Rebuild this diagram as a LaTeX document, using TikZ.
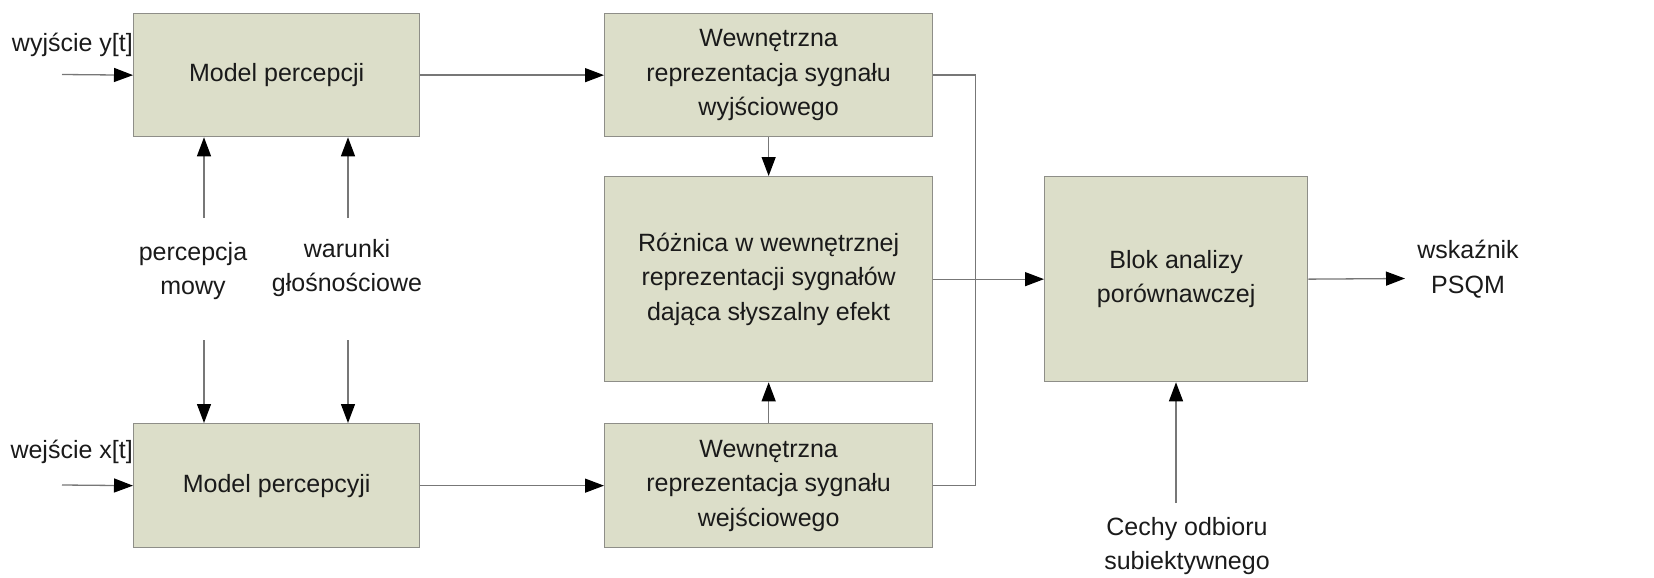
\documentclass[tikz,border=0pt]{standalone}
\usepackage{fontspec}
\setmainfont{Liberation Sans}
\usetikzlibrary{arrows.meta,calc}
\definecolor{boxfill}{HTML}{DCDEC9}
\definecolor{boxline}{HTML}{8E8E88}
\definecolor{wire}{HTML}{777777}
\definecolor{ink}{HTML}{1A1A1A}
\begin{document}
\begin{tikzpicture}[x=1pt,y=-1pt,
  every node/.style={font=\fontsize{25}{34.5}\selectfont, text=ink},
  block/.style={draw=boxline, line width=1.3pt, fill=boxfill, inner sep=0pt,
    align=center, anchor=north west},
  lbl/.style={inner sep=0pt, align=center},
  wireline/.style={draw=wire, line width=1.3pt},
  flow/.style={wireline, -{Triangle[length=19pt,width=14pt,fill=black,color=black]}}
]
\useasboundingbox (0,0) rectangle (1654,578);

% blocks
\node[block, minimum width=286pt, minimum height=123pt] (mpy) at (133,13) {Model percepcji};
\node[block, minimum width=286pt, minimum height=124pt] (mpx) at (133,423) {Model percepcyji};
\node[block, minimum width=328pt, minimum height=123pt] (wy) at (604,13)
  {Wewnętrzna\\reprezentacja sygnału\\wyjściowego};
\node[block, minimum width=328pt, minimum height=205pt] (diff) at (604,176)
  {Różnica w wewnętrznej\\reprezentacji sygnałów\\dająca słyszalny efekt};
\node[block, minimum width=328pt, minimum height=124pt] (wx) at (604,423)
  {Wewnętrzna\\reprezentacja sygnału\\wejściowego};
\node[block, minimum width=263pt, minimum height=205pt] (blok) at (1044,176)
  {Blok analizy\\porównawczej};

% free labels
\node[lbl, anchor=east] (ylab) at (133,45) {wyjście y[t]};
\node[lbl, anchor=east] (xlab) at (133,452) {wejście x[t]};
\node[lbl] (perc) at (193,271) {percepcja\\mowy};
\node[lbl] (war) at (347,268) {warunki\\głośnościowe};
\node[lbl] (psqm) at (1468,269) {wskaźnik\\PSQM};
\node[lbl] (cechy) at (1187,546) {Cechy odbioru\\subiektywnego};

% wire end points
\coordinate (iny) at (62,74.5);
\coordinate (inx) at (62,485);
\coordinate (pUp) at (204,218);
\coordinate (pDn) at (204,340);
\coordinate (wUp) at (348,218);
\coordinate (wDn) at (348,340);
\coordinate (out) at (1405,278.5);
\coordinate (cUp) at (1176,503);

% signal inputs
\draw[flow] (iny) -- (mpy.west);
\draw[flow] (inx) -- (mpx.west);
\draw[flow] (mpy.east) -- (wy.west);
\draw[flow] (mpx.east) -- (wx.west);

% perception and loudness conditions
\draw[flow] (pUp) -- (pUp |- mpy.south);
\draw[flow] (pDn) -- (pDn |- mpx.north);
\draw[flow] (wUp) -- (wUp |- mpy.south);
\draw[flow] (wDn) -- (wDn |- mpx.north);

% internal representations into the difference block
\draw[flow] (wy.south) -- (diff.north);
\draw[flow] (wx.north) -- (diff.south);

% both representations routed to the analysis block
\draw[wireline] (wy.east) -- ++(42,0) |- (wx.east);
\draw[flow] (diff.east) -- (blok.west);
\draw[flow] (blok.east) -- (out);
\draw[flow] (cUp) -- (cUp |- blok.south);
\end{tikzpicture}
\end{document}
